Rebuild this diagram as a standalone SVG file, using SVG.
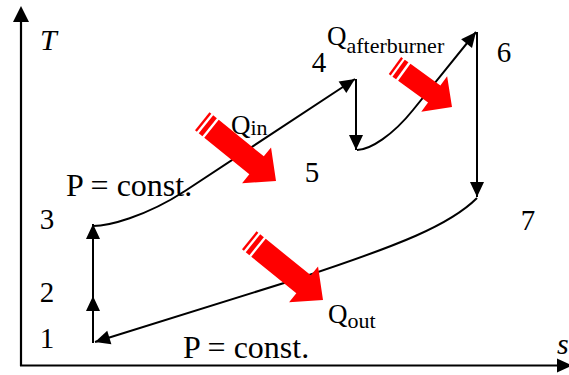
<svg xmlns="http://www.w3.org/2000/svg" xmlns:xlink="http://www.w3.org/1999/xlink" width="569" height="375" viewBox="0 0 569 375">
<style>
.ln{fill:none;stroke:#000;stroke-width:2}
.ax{fill:none;stroke:#000;stroke-width:2.2}
.t{font-family:"Liberation Serif","Times New Roman",serif;fill:#000}
.num{font-size:29px;text-anchor:middle}
.pc{font-size:32px}
.q{font-size:27px}
.sub{font-size:22px}
.it{font-style:italic;font-size:30px}
.red{fill:#ff0000}
</style>
<defs>
<marker id="ah" viewBox="-16 -8 17 16" refX="0" refY="0" markerWidth="17" markerHeight="16" markerUnits="userSpaceOnUse" orient="auto">
<path d="M0,0 L-15,-7 L-15,7 Z" fill="#000"/>
</marker>
<g id="bigArrow" class="red">
<path d="M0,0 L-25,-23 L-25,-11.5 L-83,-11.5 L-83,11.5 L-25,11.5 L-25,23 Z"/>
<rect x="-90.1" y="-11.5" width="4.7" height="23"/>
<rect x="-94.9" y="-11.5" width="2.4" height="23"/>
</g>
<g id="smallArrow" class="red">
<path d="M0,0 L-22,-22 L-22,-10.5 L-59,-10.5 L-59,10.5 L-22,10.5 L-22,22 Z"/>
<rect x="-66" y="-10.5" width="4.5" height="21"/>
<rect x="-70.5" y="-10.5" width="2.3" height="21"/>
</g>
</defs>
<rect width="569" height="375" fill="#fff"/>

<g id="axes">
<line class="ax" x1="21" y1="366" x2="21" y2="20"/>
<polygon points="21,6 13,22 29,22" fill="#000"/>
<line class="ax" x1="20" y1="365.5" x2="558" y2="365.5"/>
<polygon points="572,365.5 557,358.5 557,372.5" fill="#000"/>
<text class="t it" x="40" y="50">T</text>
<text class="t it" x="557" y="354">s</text>
</g>

<g id="connectors">
<line class="ln" x1="93" y1="343" x2="93" y2="296" marker-end="url(#ah)"/>
<line class="ln" x1="93" y1="296" x2="93" y2="224" marker-end="url(#ah)"/>
<path class="ln" d="M93,226 C108,226 145,217 185,191 L355,79" marker-end="url(#ah)"/>
<line class="ln" x1="356" y1="79" x2="356" y2="150" marker-end="url(#ah)"/>
<path class="ln" d="M357,150 C370,150 393,135 413,110 L476,32" marker-end="url(#ah)"/>
<line class="ln" x1="477" y1="32" x2="477" y2="197" marker-end="url(#ah)"/>
<path class="ln" d="M477,198 C450,225 400,245 300,278 L95,342" marker-end="url(#ah)"/>
</g>

<g id="state-1"><text class="t num" x="47" y="348">1</text></g>
<g id="state-2"><text class="t num" x="47" y="302">2</text></g>
<g id="state-3"><text class="t num" x="47" y="229">3</text></g>
<g id="state-4"><text class="t num" x="319" y="72">4</text></g>
<g id="state-5"><text class="t num" x="312" y="182">5</text></g>
<g id="state-6"><text class="t num" x="504" y="62">6</text></g>
<g id="state-7"><text class="t num" x="528" y="230">7</text></g>

<g id="label-p-high"><text class="t pc" x="66" y="196">P = const.</text></g>
<g id="label-p-low"><text class="t pc" x="183" y="358">P = const.</text></g>

<g id="heat-in">
<use xlink:href="#bigArrow" href="#bigArrow" transform="translate(276,181) rotate(39)"/>
<text class="t q" x="231" y="134">Q<tspan class="sub" dy="1">in</tspan></text>
</g>
<g id="heat-afterburner">
<use xlink:href="#smallArrow" href="#smallArrow" transform="translate(452,107) rotate(36)"/>
<text class="t q" x="327" y="45">Q<tspan class="sub" dy="8">afterburner</tspan></text>
</g>
<g id="heat-out">
<use xlink:href="#bigArrow" href="#bigArrow" transform="translate(323,300) rotate(39)"/>
<text class="t q" x="328" y="323">Q<tspan class="sub" dy="5">out</tspan></text>
</g>
</svg>
